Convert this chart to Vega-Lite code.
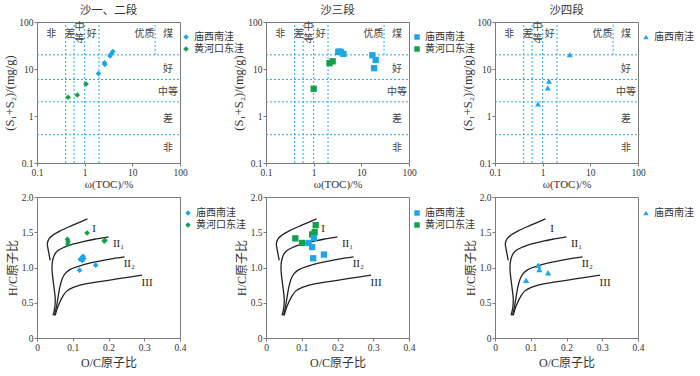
{
  "$schema": "https://vega.github.io/schema/vega-lite/v6.json",
  "background": "white",
  "padding": {"left": 3, "top": 4, "right": 5, "bottom": 5},
  "columns": 3,
  "spacing": {"row": 34, "column": 86},
  "bounds": "flush",
  "resolve": {"scale": {"color": "independent"}, "legend": {"color": "independent"}},
  "datasets": {
    "rulesTop": [
      {"x": 0.4, "x2": 0.4, "y": 0.1, "y2": 100},
      {"x": 0.6, "x2": 0.6, "y": 0.1, "y2": 100},
      {"x": 1, "x2": 1, "y": 0.1, "y2": 100},
      {"x": 2, "x2": 2, "y": 0.1, "y2": 100},
      {"x": 30, "x2": 30, "y": 20, "y2": 100},
      {"x": 0.1, "x2": 100, "y": 0.4, "y2": 0.4},
      {"x": 0.1, "x2": 100, "y": 2, "y2": 2},
      {"x": 0.1, "x2": 100, "y": 6, "y2": 6},
      {"x": 0.1, "x2": 100, "y": 20, "y2": 20}
    ],
    "labelsTop": [
      {"x": 0.2, "y": 56, "t": "非"},
      {"x": 0.49, "y": 56, "t": "差"},
      {"x": 0.775, "y": 77, "t": "中"},
      {"x": 0.775, "y": 43, "t": "等"},
      {"x": 1.4, "y": 56, "t": "好"},
      {"x": 18, "y": 56, "t": "优质"},
      {"x": 56, "y": 56, "t": "煤"},
      {"x": 56, "y": 10, "t": "好"},
      {"x": 56, "y": 3.3, "t": "中等"},
      {"x": 56, "y": 0.86, "t": "差"},
      {"x": 56, "y": 0.21, "t": "非"}
    ],
    "curves": [
      {"c": "I", "i": 0, "x": 0.141, "y": 1.69},
      {"c": "I", "i": 1, "x": 0.1, "y": 1.6},
      {"c": "I", "i": 2, "x": 0.065, "y": 1.52},
      {"c": "I", "i": 3, "x": 0.045, "y": 1.46},
      {"c": "I", "i": 4, "x": 0.034, "y": 1.41},
      {"c": "I", "i": 5, "x": 0.029, "y": 1.34},
      {"c": "I", "i": 6, "x": 0.031, "y": 1.26},
      {"c": "I", "i": 7, "x": 0.034, "y": 1.18},
      {"c": "I", "i": 8, "x": 0.037, "y": 1.1},
      {"c": "II1", "i": 0, "x": 0.2, "y": 1.435},
      {"c": "II1", "i": 1, "x": 0.165, "y": 1.405},
      {"c": "II1", "i": 2, "x": 0.135, "y": 1.375},
      {"c": "II1", "i": 3, "x": 0.1, "y": 1.33},
      {"c": "II1", "i": 4, "x": 0.075, "y": 1.285},
      {"c": "II1", "i": 5, "x": 0.057, "y": 1.235},
      {"c": "II1", "i": 6, "x": 0.048, "y": 1.17},
      {"c": "II1", "i": 7, "x": 0.043, "y": 1.08},
      {"c": "II1", "i": 8, "x": 0.042, "y": 0.98},
      {"c": "II1", "i": 9, "x": 0.044, "y": 0.86},
      {"c": "II1", "i": 10, "x": 0.048, "y": 0.7},
      {"c": "II1", "i": 11, "x": 0.051, "y": 0.56},
      {"c": "II1", "i": 12, "x": 0.05, "y": 0.44},
      {"c": "II1", "i": 13, "x": 0.045, "y": 0.32},
      {"c": "II2", "i": 0, "x": 0.245, "y": 1.15},
      {"c": "II2", "i": 1, "x": 0.2, "y": 1.115},
      {"c": "II2", "i": 2, "x": 0.15, "y": 1.065},
      {"c": "II2", "i": 3, "x": 0.118, "y": 1.02},
      {"c": "II2", "i": 4, "x": 0.092, "y": 0.97},
      {"c": "II2", "i": 5, "x": 0.078, "y": 0.91},
      {"c": "II2", "i": 6, "x": 0.069, "y": 0.82},
      {"c": "II2", "i": 7, "x": 0.063, "y": 0.7},
      {"c": "II2", "i": 8, "x": 0.058, "y": 0.55},
      {"c": "II2", "i": 9, "x": 0.054, "y": 0.43},
      {"c": "II2", "i": 10, "x": 0.049, "y": 0.32},
      {"c": "III", "i": 0, "x": 0.294, "y": 0.892},
      {"c": "III", "i": 1, "x": 0.233, "y": 0.845},
      {"c": "III", "i": 2, "x": 0.174, "y": 0.8},
      {"c": "III", "i": 3, "x": 0.13, "y": 0.76},
      {"c": "III", "i": 4, "x": 0.1, "y": 0.715},
      {"c": "III", "i": 5, "x": 0.083, "y": 0.665},
      {"c": "III", "i": 6, "x": 0.072, "y": 0.59},
      {"c": "III", "i": 7, "x": 0.063, "y": 0.5},
      {"c": "III", "i": 8, "x": 0.056, "y": 0.41},
      {"c": "III", "i": 9, "x": 0.051, "y": 0.32}
    ],
    "curveLabels": [
      {"x": 0.16, "y": 1.55, "t": "I"},
      {"x": 0.228, "y": 1.33, "t": "II₁"},
      {"x": 0.258, "y": 1.05, "t": "II₂"},
      {"x": 0.308, "y": 0.78, "t": "III"}
    ],
    "p1": [
      {"x": 0.45, "y": 2.5, "g": "黄河口东洼"},
      {"x": 0.7, "y": 2.8, "g": "黄河口东洼"},
      {"x": 1.07, "y": 4.8, "g": "黄河口东洼"},
      {"x": 1.95, "y": 8, "g": "庙西南洼"},
      {"x": 2.6, "y": 13.5, "g": "庙西南洼"},
      {"x": 2.65, "y": 12.5, "g": "庙西南洼"},
      {"x": 3.4, "y": 19, "g": "庙西南洼"},
      {"x": 3.55, "y": 20.5, "g": "庙西南洼"},
      {"x": 3.9, "y": 23.5, "g": "庙西南洼"}
    ],
    "p2": [
      {"x": 3.3, "y": 23, "g": "黄河口东洼"},
      {"x": 2.15, "y": 13.3, "g": "黄河口东洼"},
      {"x": 2.5, "y": 14.6, "g": "黄河口东洼"},
      {"x": 1.0, "y": 3.8, "g": "黄河口东洼"},
      {"x": 3.45, "y": 23.5, "g": "庙西南洼"},
      {"x": 3.7, "y": 23, "g": "庙西南洼"},
      {"x": 4.2, "y": 21, "g": "庙西南洼"},
      {"x": 17, "y": 19.6, "g": "庙西南洼"},
      {"x": 20, "y": 15.6, "g": "庙西南洼"},
      {"x": 18.5, "y": 10.4, "g": "庙西南洼"}
    ],
    "p3": [
      {"x": 3.7, "y": 20.3, "g": "庙西南洼"},
      {"x": 1.36, "y": 5.5, "g": "庙西南洼"},
      {"x": 1.28, "y": 3.95, "g": "庙西南洼"},
      {"x": 0.8, "y": 1.8, "g": "庙西南洼"}
    ],
    "p4": [
      {"x": 0.085, "y": 1.4, "g": "黄河口东洼"},
      {"x": 0.087, "y": 1.37, "g": "黄河口东洼"},
      {"x": 0.086, "y": 1.33, "g": "黄河口东洼"},
      {"x": 0.14, "y": 1.49, "g": "黄河口东洼"},
      {"x": 0.19, "y": 1.385, "g": "黄河口东洼"},
      {"x": 0.188, "y": 1.375, "g": "黄河口东洼"},
      {"x": 0.129, "y": 1.16, "g": "庙西南洼"},
      {"x": 0.121, "y": 1.113, "g": "庙西南洼"},
      {"x": 0.131, "y": 1.127, "g": "庙西南洼"},
      {"x": 0.127, "y": 1.1, "g": "庙西南洼"},
      {"x": 0.125, "y": 1.14, "g": "庙西南洼"},
      {"x": 0.119, "y": 0.962, "g": "庙西南洼"},
      {"x": 0.164, "y": 1.033, "g": "庙西南洼"}
    ],
    "p5": [
      {"x": 0.082, "y": 1.413, "g": "黄河口东洼"},
      {"x": 0.101, "y": 1.348, "g": "黄河口东洼"},
      {"x": 0.129, "y": 1.469, "g": "黄河口东洼"},
      {"x": 0.136, "y": 1.502, "g": "黄河口东洼"},
      {"x": 0.139, "y": 1.6, "g": "黄河口东洼"},
      {"x": 0.134, "y": 1.418, "g": "庙西南洼"},
      {"x": 0.119, "y": 1.348, "g": "庙西南洼"},
      {"x": 0.129, "y": 1.29, "g": "庙西南洼"},
      {"x": 0.132, "y": 1.131, "g": "庙西南洼"},
      {"x": 0.162, "y": 1.183, "g": "庙西南洼"}
    ],
    "p6": [
      {"x": 0.1205, "y": 1.033, "g": "庙西南洼"},
      {"x": 0.124, "y": 0.972, "g": "庙西南洼"},
      {"x": 0.1486, "y": 0.925, "g": "庙西南洼"},
      {"x": 0.087, "y": 0.82, "g": "庙西南洼"}
    ]
  },
  "concat": [
    {
      "width": 143, "height": 141,
      "title": "沙一、二段",
      "encoding": {
        "x": {"field": "x", "type": "quantitative", "scale": {"type": "log", "domain": [0.1, 100], "nice": false}, "axis": {"values": [0.1, 1, 10, 100], "format": "~g", "title": "ω(TOC)/%"}},
        "y": {"field": "y", "type": "quantitative", "scale": {"type": "log", "domain": [0.1, 100], "nice": false}, "axis": {"values": [0.1, 1, 10, 100], "format": "~g", "title": "(S₁+S₂)/(mg/g)", "titleFontSize": 12.5}}
      },
      "layer": [
        {"data": {"name": "rulesTop"}, "mark": {"type": "rule", "color": "#2aa8e4", "strokeDash": [2, 2], "strokeWidth": 1}, "encoding": {"x2": {"field": "x2"}, "y2": {"field": "y2"}}},
        {"data": {"name": "labelsTop"}, "mark": {"type": "text", "fontSize": 10, "color": "#444"}, "encoding": {"text": {"field": "t", "type": "nominal"}}},
        {"data": {"name": "p1"}, "mark": {"type": "point", "shape": "diamond", "filled": true, "size": 32, "opacity": 1}, "encoding": {"color": {"field": "g", "type": "nominal", "scale": {"domain": ["庙西南洼", "黄河口东洼"], "range": ["#1fa6e8", "#14a04c"]}, "legend": {"title": null, "orient": "none", "legendX": 144, "legendY": 10, "symbolType": "diamond"}}}}
      ]
    },
    {
      "width": 143, "height": 141,
      "title": "沙三段",
      "encoding": {
        "x": {"field": "x", "type": "quantitative", "scale": {"type": "log", "domain": [0.1, 100], "nice": false}, "axis": {"values": [0.1, 1, 10, 100], "format": "~g", "title": "ω(TOC)/%"}},
        "y": {"field": "y", "type": "quantitative", "scale": {"type": "log", "domain": [0.1, 100], "nice": false}, "axis": {"values": [0.1, 1, 10, 100], "format": "~g", "title": "(S₁+S₂)/(mg/g)", "titleFontSize": 12.5}}
      },
      "layer": [
        {"data": {"name": "rulesTop"}, "mark": {"type": "rule", "color": "#2aa8e4", "strokeDash": [2, 2], "strokeWidth": 1}, "encoding": {"x2": {"field": "x2"}, "y2": {"field": "y2"}}},
        {"data": {"name": "labelsTop"}, "mark": {"type": "text", "fontSize": 10, "color": "#444"}, "encoding": {"text": {"field": "t", "type": "nominal"}}},
        {"data": {"name": "p2"}, "mark": {"type": "point", "shape": "square", "filled": true, "size": 40, "opacity": 1}, "encoding": {"color": {"field": "g", "type": "nominal", "scale": {"domain": ["庙西南洼", "黄河口东洼"], "range": ["#1fa6e8", "#14a04c"]}, "legend": {"title": null, "orient": "none", "legendX": 146, "legendY": 10, "symbolType": "square"}}}}
      ]
    },
    {
      "width": 143, "height": 141,
      "title": "沙四段",
      "encoding": {
        "x": {"field": "x", "type": "quantitative", "scale": {"type": "log", "domain": [0.1, 100], "nice": false}, "axis": {"values": [0.1, 1, 10, 100], "format": "~g", "title": "ω(TOC)/%"}},
        "y": {"field": "y", "type": "quantitative", "scale": {"type": "log", "domain": [0.1, 100], "nice": false}, "axis": {"values": [0.1, 1, 10, 100], "format": "~g", "title": "(S₁+S₂)/(mg/g)", "titleFontSize": 12.5}}
      },
      "layer": [
        {"data": {"name": "rulesTop"}, "mark": {"type": "rule", "color": "#2aa8e4", "strokeDash": [2, 2], "strokeWidth": 1}, "encoding": {"x2": {"field": "x2"}, "y2": {"field": "y2"}}},
        {"data": {"name": "labelsTop"}, "mark": {"type": "text", "fontSize": 10, "color": "#444"}, "encoding": {"text": {"field": "t", "type": "nominal"}}},
        {"data": {"name": "p3"}, "mark": {"type": "point", "shape": "triangle-up", "filled": true, "size": 36, "opacity": 1}, "encoding": {"color": {"field": "g", "type": "nominal", "scale": {"domain": ["庙西南洼"], "range": ["#1fa6e8"]}, "legend": {"title": null, "orient": "none", "legendX": 146, "legendY": 10, "symbolType": "triangle-up"}}}}
      ]
    },
    {
      "width": 143, "height": 141,
      "encoding": {
        "x": {"field": "x", "type": "quantitative", "scale": {"domain": [0, 0.4], "nice": false}, "axis": {"values": [0, 0.1, 0.2, 0.3, 0.4], "format": "~g", "title": "O/C原子比", "titleFontSize": 12, "titlePadding": 6}},
        "y": {"field": "y", "type": "quantitative", "scale": {"domain": [0, 2], "nice": false}, "axis": {"values": [0, 0.5, 1, 1.5, 2], "labelExpr": "datum.value == 0 ? '0' : format(datum.value, '.1f')", "title": "H/C原子比", "titleFontSize": 12}}
      },
      "layer": [
        {"data": {"name": "curves"}, "mark": {"type": "line", "color": "#222", "strokeWidth": 1.3, "interpolate": "catmull-rom"}, "encoding": {"detail": {"field": "c", "type": "nominal"}, "order": {"field": "i", "type": "quantitative"}}},
        {"data": {"name": "curveLabels"}, "mark": {"type": "text", "fontSize": 11, "color": "#222"}, "encoding": {"text": {"field": "t", "type": "nominal"}}},
        {"data": {"name": "p4"}, "mark": {"type": "point", "shape": "diamond", "filled": true, "size": 32, "opacity": 1}, "encoding": {"color": {"field": "g", "type": "nominal", "scale": {"domain": ["庙西南洼", "黄河口东洼"], "range": ["#1fa6e8", "#14a04c"]}, "legend": {"title": null, "orient": "none", "legendX": 146, "legendY": 11, "symbolType": "diamond"}}}}
      ]
    },
    {
      "width": 143, "height": 141,
      "encoding": {
        "x": {"field": "x", "type": "quantitative", "scale": {"domain": [0, 0.4], "nice": false}, "axis": {"values": [0, 0.1, 0.2, 0.3, 0.4], "format": "~g", "title": "O/C原子比", "titleFontSize": 12, "titlePadding": 6}},
        "y": {"field": "y", "type": "quantitative", "scale": {"domain": [0, 2], "nice": false}, "axis": {"values": [0, 0.5, 1, 1.5, 2], "labelExpr": "datum.value == 0 ? '0' : format(datum.value, '.1f')", "title": "H/C原子比", "titleFontSize": 12}}
      },
      "layer": [
        {"data": {"name": "curves"}, "mark": {"type": "line", "color": "#222", "strokeWidth": 1.3, "interpolate": "catmull-rom"}, "encoding": {"detail": {"field": "c", "type": "nominal"}, "order": {"field": "i", "type": "quantitative"}}},
        {"data": {"name": "curveLabels"}, "mark": {"type": "text", "fontSize": 11, "color": "#222"}, "encoding": {"text": {"field": "t", "type": "nominal"}}},
        {"data": {"name": "p5"}, "mark": {"type": "point", "shape": "square", "filled": true, "size": 40, "opacity": 1}, "encoding": {"color": {"field": "g", "type": "nominal", "scale": {"domain": ["庙西南洼", "黄河口东洼"], "range": ["#1fa6e8", "#14a04c"]}, "legend": {"title": null, "orient": "none", "legendX": 146, "legendY": 11, "symbolType": "square"}}}}
      ]
    },
    {
      "width": 143, "height": 141,
      "encoding": {
        "x": {"field": "x", "type": "quantitative", "scale": {"domain": [0, 0.4], "nice": false}, "axis": {"values": [0, 0.1, 0.2, 0.3, 0.4], "format": "~g", "title": "O/C原子比", "titleFontSize": 12, "titlePadding": 6}},
        "y": {"field": "y", "type": "quantitative", "scale": {"domain": [0, 2], "nice": false}, "axis": {"values": [0, 0.5, 1, 1.5, 2], "labelExpr": "datum.value == 0 ? '0' : format(datum.value, '.1f')", "title": "H/C原子比", "titleFontSize": 12}}
      },
      "layer": [
        {"data": {"name": "curves"}, "mark": {"type": "line", "color": "#222", "strokeWidth": 1.3, "interpolate": "catmull-rom"}, "encoding": {"detail": {"field": "c", "type": "nominal"}, "order": {"field": "i", "type": "quantitative"}}},
        {"data": {"name": "curveLabels"}, "mark": {"type": "text", "fontSize": 11, "color": "#222"}, "encoding": {"text": {"field": "t", "type": "nominal"}}},
        {"data": {"name": "p6"}, "mark": {"type": "point", "shape": "triangle-up", "filled": true, "size": 40, "opacity": 1}, "encoding": {"color": {"field": "g", "type": "nominal", "scale": {"domain": ["庙西南洼"], "range": ["#1fa6e8"]}, "legend": {"title": null, "orient": "none", "legendX": 146, "legendY": 11, "symbolType": "triangle-up"}}}}
      ]
    }
  ],
  "config": {
    "font": "'Liberation Serif', 'Noto Sans CJK SC'",
    "view": {"stroke": "#7a7a7a", "strokeWidth": 1},
    "axis": {
      "grid": false, "domain": false, "ticks": true, "tickSize": 3, "tickColor": "#7a7a7a",
      "labelFont": "'Liberation Serif', 'Noto Sans CJK SC'", "labelFontSize": 9.5, "labelColor": "#333", "labelFlush": false, "labelOverlap": false, "labelPadding": 1,
      "titleFont": "'Liberation Serif', 'Noto Sans CJK SC'", "titleFontSize": 11, "titleFontWeight": "normal", "titleColor": "#333", "titlePadding": 2
    },
    "legend": {
      "labelFont": "'Liberation Serif', 'Noto Sans CJK SC'", "labelFontSize": 10, "labelColor": "#333", "symbolSize": 30, "padding": 0, "rowPadding": 2, "labelOffset": 3, "symbolStrokeWidth": 0
    },
    "title": {"font": "'Liberation Serif', 'Noto Sans CJK SC'", "fontSize": 11.5, "fontWeight": "normal", "color": "#333", "offset": 1},
    "text": {"font": "'Liberation Serif', 'Noto Sans CJK SC'"}
  }
}
